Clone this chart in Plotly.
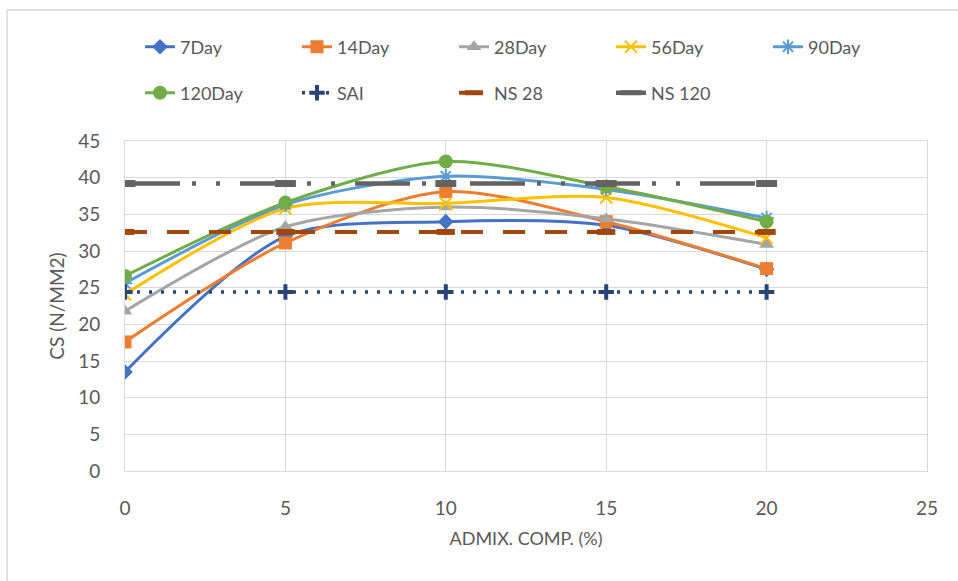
import plotly.graph_objects as go

x_vals = [0, 5, 10, 15, 20]
day7 = [13.5, 32.0, 34.0, 33.5, 27.5]
day14 = [17.6, 31.1, 38.1, 34.0, 27.6]
day28 = [21.8, 33.3, 36.0, 34.4, 30.9]
day56 = [24.1, 35.8, 36.5, 37.3, 31.8]
day90 = [25.6, 36.3, 40.2, 38.4, 34.5]
day120 = [26.6, 36.6, 42.2, 38.8, 34.0]
sai = [24.4, 24.4, 24.4, 24.4, 24.4]
ns28 = [32.6, 32.6, 32.6, 32.6, 32.6]
ns120 = [39.2, 39.2, 39.2, 39.2, 39.2]

FONT = "Lato"
TXT = "#595959"

fig = go.Figure()

def day_trace(name, y, color, symbol, size, legend, mline=None):
    marker = dict(symbol=symbol, size=size, color=color)
    if mline:
        marker["line"] = dict(color=color, width=mline)
    fig.add_trace(go.Scatter(
        x=x_vals, y=y, name=name, mode="lines+markers",
        line=dict(color=color, width=3, shape="spline", smoothing=0.8),
        marker=marker, legend=legend))

day_trace("7Day", day7, "#4472C4", "diamond", 12, "legend")
day_trace("14Day", day14, "#ED7D31", "square", 13, "legend")
day_trace("28Day", day28, "#A5A5A5", "triangle-up", 13, "legend")
day_trace("56Day", day56, "#FFC000", "x-thin-open", 12, "legend", 2)
day_trace("90Day", day90, "#5B9BD5", "asterisk-open", 12, "legend", 2)
day_trace("120Day", day120, "#70AD47", "circle", 14, "legend2")

fig.add_trace(go.Scatter(
    x=x_vals, y=sai, name="SAI", mode="lines+markers",
    line=dict(color="#264478", width=3.5, dash="3px,9px"),
    marker=dict(symbol="cross-thin-open", size=11, color="#264478",
                line=dict(color="#264478", width=4)),
    legend="legend2"))
fig.add_trace(go.Scatter(
    x=x_vals, y=ns28, name="NS 28", mode="lines+markers",
    line=dict(color="#9E480E", width=4, dash="22px,20px"),
    marker=dict(symbol="line-ew-open", size=13, color="#9E480E",
                line=dict(color="#9E480E", width=6)),
    legend="legend2"))
fig.add_trace(go.Scatter(
    x=x_vals, y=ns120, name="NS 120", mode="lines+markers",
    line=dict(color="#636363", width=4.5, dash="55px,12px,4px,20px,4px,20px"),
    marker=dict(symbol="line-ew-open", size=15, color="#636363",
                line=dict(color="#636363", width=7)),
    legend="legend2"))

W, H = 958, 581
L, R, T, B = 125, 927, 141, 471

def px2paper_x(px):
    return (px - L) / (R - L)

def px2paper_y(py):
    return (B - py) / (B - T)

legend_common = dict(
    orientation="h", xref="container", yref="container",
    xanchor="left", yanchor="middle",
    font=dict(family=FONT, size=18, color=TXT),
    entrywidth=112, entrywidthmode="pixels",
    bgcolor="rgba(0,0,0,0)", itemclick=False, itemdoubleclick=False,
)

fig.update_layout(
    width=W, height=H,
    margin=dict(l=L, r=W - R, t=T, b=H - B),
    paper_bgcolor="white", plot_bgcolor="white",
    font=dict(family=FONT, color=TXT),
    showlegend=True,
    legend=dict(x=140 / W, y=1 - 47 / H, **legend_common),
    legend2=dict(x=140 / W, y=1 - 93 / H, **legend_common),
    xaxis=dict(
        range=[0, 25], dtick=5, tick0=0,
        showgrid=True, gridcolor="#D9D9D9", gridwidth=1,
        zeroline=False, showline=True, linecolor="#D9D9D9", mirror=True,
        ticks="", tickfont=dict(family=FONT, size=19, color=TXT),
        ticklabelstandoff=20,
        title=dict(text="ADMIX. COMP. (%)", font=dict(family=FONT, size=18, color=TXT), standoff=14),
        fixedrange=True,
    ),
    yaxis=dict(
        range=[0, 45], dtick=5, tick0=0,
        showgrid=True, gridcolor="#D9D9D9", gridwidth=1,
        zeroline=False, showline=True, linecolor="#D9D9D9", mirror=True,
        ticks="", tickfont=dict(family=FONT, size=19, color=TXT),
        ticklabelstandoff=20,
        title=dict(text="CS (N/MM2)", font=dict(family=FONT, size=19, color=TXT), standoff=8),
        fixedrange=True,
    ),
    shapes=[
        dict(type="line", xref="paper", yref="paper",
             x0=px2paper_x(7), x1=px2paper_x(7), y0=px2paper_y(10), y1=px2paper_y(600),
             line=dict(color="#D9D9D9", width=1.5)),
        dict(type="line", xref="paper", yref="paper",
             x0=px2paper_x(7), x1=px2paper_x(980), y0=px2paper_y(10), y1=px2paper_y(10),
             line=dict(color="#D9D9D9", width=1.5)),
    ],
)

fig.write_html("out.html")
